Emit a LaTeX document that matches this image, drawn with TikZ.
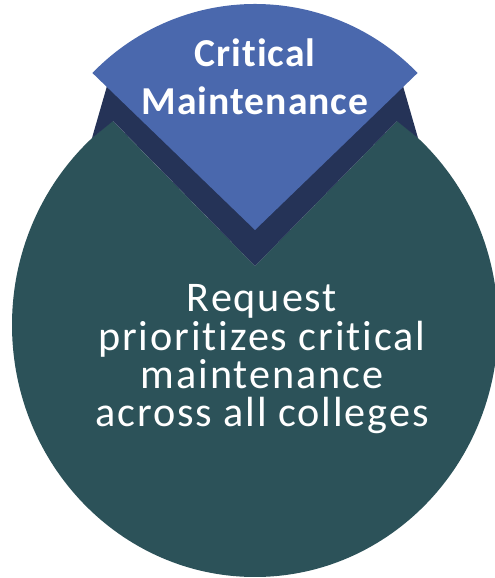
\documentclass[tikz,border=0pt]{standalone}
\usepackage{fontspec}
\setmainfont{Carlito}
\newfontfamily\pieFont[LetterSpace=4.5,Ligatures=NoCommon]{Carlito}
\newfontfamily\sliceFont[LetterSpace=2.6,Ligatures=NoCommon]{Carlito}
\usepackage{tikz}
\definecolor{pieTeal}{RGB}{44,82,89}
\definecolor{pieNavy}{RGB}{37,51,87}
\definecolor{pieBlue}{RGB}{74,104,173}
\tikzset{pie label/.style={text=white,align=center,inner sep=0,anchor=base}}

\begin{document}
\begin{tikzpicture}[x=1pt,y=1pt]

            \def \pieCenter{(255, 253)}
            \def \pieApex{(255, 312)}
            \def \sliceApex{(255, 348)}
            \def \sliceRadius{226}
            \def \sliceNamePoint{(255, 463)}
            \def \pieNamePoint{(262, 151.3)}

            \useasboundingbox (0, 0) rectangle (495, 578);

            \scope
              \clip (0, 572) -- \pieApex -- (495, 557) -- (495, 0) -- (0, 0) -- cycle;
              \fill[pieTeal] \pieCenter ellipse (243 and 252);
            \endscope
            \fill[pieNavy] (107, 492) -- (92, 440) -- (113, 457) -- \pieApex
              -- (397, 457) -- (418, 440) -- (403, 492) -- cycle;
            \fill[pieBlue] \sliceApex -- ++(44:\sliceRadius) arc (44:136:\sliceRadius) -- cycle;

            \node[pie label, font=\sliceFont\bfseries\fontsize{39.6}{48.3}\selectfont] (slice) at \sliceNamePoint {Critical\\Maintenance};
            \node[pie label, font=\pieFont\fontsize{42.2}{38.3}\selectfont] (pie) at \pieNamePoint {Request\\prioritizes critical\\maintenance\\across all colleges};

          \end{tikzpicture}
\end{document}
